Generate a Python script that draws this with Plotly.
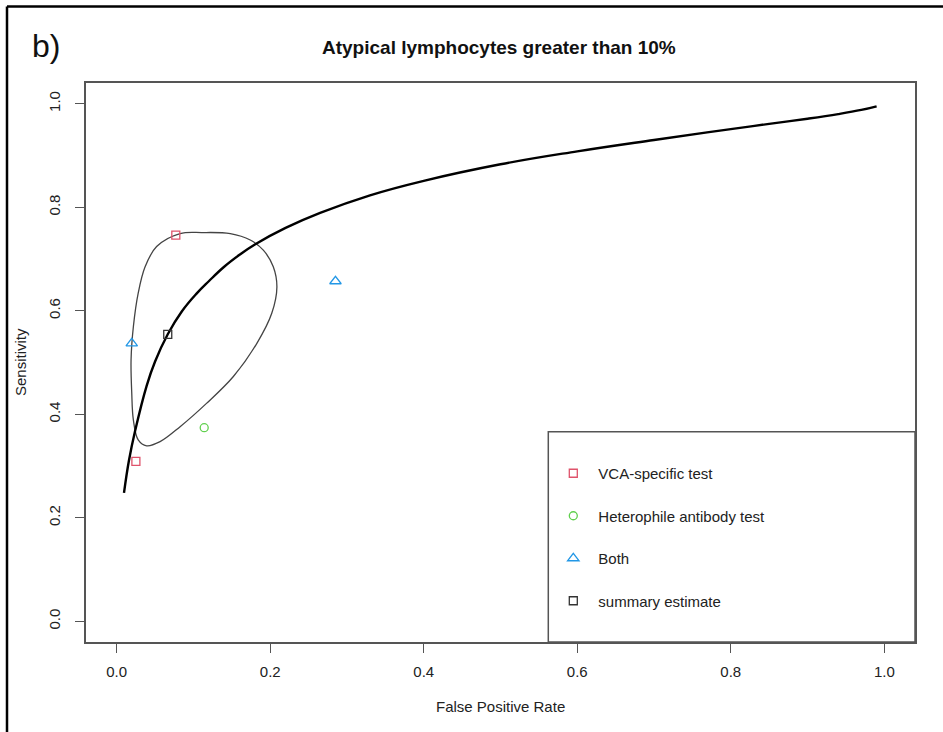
import plotly.graph_objects as go

# ---- data ----
vca_fpr = [0.077, 0.025]
vca_sens = [0.746, 0.309]
het_fpr = [0.114]
het_sens = [0.374]
both_fpr = [0.0196, 0.285]
both_sens = [0.537, 0.657]
summary_fpr = [0.0665]
summary_sens = [0.5545]

sroc_fpr = [0.0095, 0.016, 0.024, 0.039, 0.05, 0.0665, 0.085, 0.104, 0.12, 0.14, 0.16, 0.18, 0.22, 0.265, 0.33,
            0.40, 0.50, 0.60, 0.70, 0.80, 0.85, 0.90, 0.94, 0.97, 0.99]
sroc_sens = [0.248, 0.311, 0.368, 0.455, 0.502, 0.5545, 0.599, 0.633, 0.657, 0.685, 0.708, 0.728, 0.760, 0.789, 0.823,
             0.851, 0.883, 0.908, 0.930, 0.951, 0.961, 0.971, 0.980, 0.988, 0.995]

region_fpr = [0.111, 0.0826, 0.052, 0.037, 0.028, 0.0217, 0.0187, 0.0196, 0.0217, 0.028, 0.039, 0.0565,
              0.0826, 0.117, 0.152, 0.1826, 0.202, 0.2087, 0.204, 0.191, 0.174, 0.148, 0.111]
region_sens = [0.751, 0.749, 0.724, 0.685, 0.634, 0.569, 0.505, 0.441, 0.389, 0.3505, 0.339, 0.347,
               0.376, 0.421, 0.473, 0.537, 0.595, 0.646, 0.685, 0.717, 0.7366, 0.749, 0.751]

tick_vals = [0.0, 0.2, 0.4, 0.6, 0.8, 1.0]
tick_text = ["0.0", "0.2", "0.4", "0.6", "0.8", "1.0"]

FONT = "Liberation Sans, Arial, sans-serif"
W, H = 943, 732
L, R, T, B = 86, 28, 83, 90

fig = go.Figure()

fig.add_trace(go.Scatter(x=region_fpr, y=region_sens, mode="lines",
                         line=dict(color="#444444", width=1.3, shape="spline", smoothing=1.0),
                         showlegend=False, hoverinfo="skip"))
fig.add_trace(go.Scatter(x=sroc_fpr, y=sroc_sens, mode="lines",
                         line=dict(color="#000000", width=2.4, shape="spline", smoothing=1.2),
                         showlegend=False, hoverinfo="skip"))

mk = dict(size=8, line=dict(width=1.3))
fig.add_trace(go.Scatter(x=vca_fpr, y=vca_sens, mode="markers", name="VCA-specific test", legendgroup="a",
                         marker=dict(symbol="square-open", color="#DF536B", **mk)))
fig.add_trace(go.Scatter(x=het_fpr, y=het_sens, mode="markers", name="Heterophile antibody test", legendgroup="b",
                         marker=dict(symbol="circle-open", color="#61D04F", **mk)))
fig.add_trace(go.Scatter(x=both_fpr, y=both_sens, mode="markers", name="Both", legendgroup="c",
                         marker=dict(symbol="triangle-up-open", color="#2297E6", size=10, line=dict(width=1.3))))
fig.add_trace(go.Scatter(x=summary_fpr, y=summary_sens, mode="markers", name="summary estimate", legendgroup="d",
                         marker=dict(symbol="square-open", color="#333333", **mk)))

axis_common = dict(showgrid=False, zeroline=False, showline=True, mirror=True, linecolor="#555555", linewidth=1.5,
                   ticks="outside", ticklen=9, tickwidth=1.3, tickcolor="#555555",
                   tickvals=tick_vals, ticktext=tick_text,
                   tickfont=dict(family=FONT, size=15, color="#222222"))

fig.update_xaxes(range=[-0.04, 1.04], ticklabelstandoff=6, **axis_common)
fig.update_yaxes(range=[-0.04, 1.04], tickangle=-90, ticklabelstandoff=9, **axis_common)

pw, ph = W - L - R, H - T - B
def px(xp):
    return (xp - L) / pw
def py(yp):
    return (H - B - yp) / ph

shapes = [
    # legend box
    dict(type="rect", xref="paper", yref="paper", x0=px(548.3), x1=1.0, y0=0.0, y1=py(431.7),
         line=dict(color="#555555", width=1.5), fillcolor="rgba(0,0,0,0)"),
    # outer frame (top and left)
    dict(type="line", xref="paper", yref="paper", x0=px(7), x1=px(960), y0=py(6.5), y1=py(6.5),
         line=dict(color="#000000", width=2.5)),
    dict(type="line", xref="paper", yref="paper", x0=px(7), x1=px(7), y0=py(6.5), y1=py(760),
         line=dict(color="#000000", width=2.5)),
]

annotations = [
    dict(text="<b>Atypical lymphocytes greater than 10%</b>", xref="paper", yref="paper", x=px(499), y=py(48),
         showarrow=False, font=dict(family=FONT, size=19, color="#111111"), xanchor="center", yanchor="middle"),
    dict(text="b)", xref="paper", yref="paper", x=px(46), y=py(46), showarrow=False,
         font=dict(family=FONT, size=32, color="#111111"), xanchor="center", yanchor="middle"),
    dict(text="False Positive Rate", xref="paper", yref="paper", x=px(500), y=py(706), showarrow=False,
         font=dict(family=FONT, size=15, color="#222222"), xanchor="center", yanchor="middle"),
    dict(text="Sensitivity", xref="paper", yref="paper", x=px(20), y=py(362), showarrow=False, textangle=-90,
         font=dict(family=FONT, size=15, color="#222222"), xanchor="center", yanchor="middle"),
]

fig.update_layout(
    width=W, height=H, margin=dict(l=L, r=R, t=T, b=B),
    paper_bgcolor="white", plot_bgcolor="white",
    shapes=shapes, annotations=annotations,
    showlegend=True,
    legend=dict(x=px(548.3), y=py(457), xanchor="left", yanchor="top", bgcolor="rgba(0,0,0,0)",
                borderwidth=0, tracegroupgap=20, traceorder="grouped", itemwidth=40,
                font=dict(family=FONT, size=15, color="#222222")),
)

fig.write_html("out.html")
